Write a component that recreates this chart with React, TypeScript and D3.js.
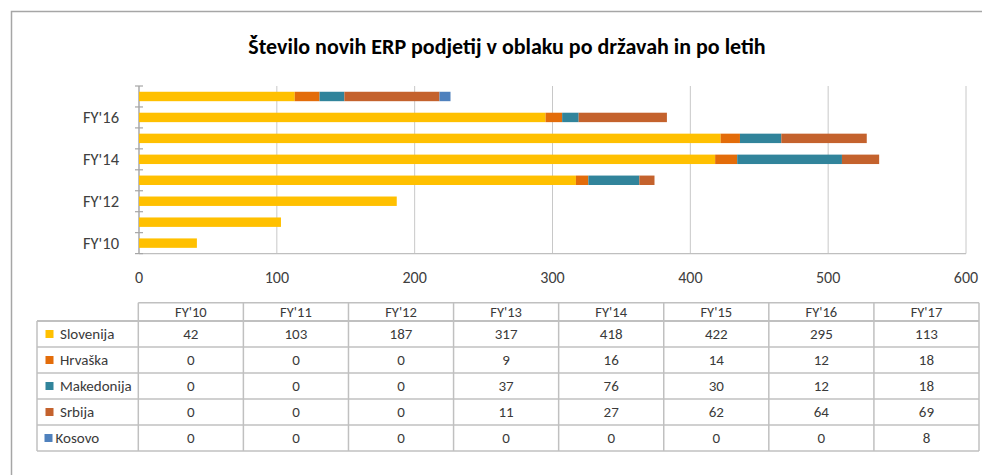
import React from "react";
import * as d3 from "d3";

const years = ["FY'10", "FY'11", "FY'12", "FY'13", "FY'14", "FY'15", "FY'16", "FY'17"];
const seriesNames = ["Slovenija", "Hrvaška", "Makedonija", "Srbija", "Kosovo"];
const slovenija = [42, 103, 187, 317, 418, 422, 295, 113];
const hrvaska = [0, 0, 0, 9, 16, 14, 12, 18];
const makedonija = [0, 0, 0, 37, 76, 30, 12, 18];
const srbija = [0, 0, 0, 11, 27, 62, 64, 69];
const kosovo = [0, 0, 0, 0, 0, 0, 0, 8];
const colors = ["#FFC000", "#E36C0A", "#31849B", "#C4622D", "#4F81BD"];
const xTicks = [0, 100, 200, 300, 400, 500, 600];
const yLabelYears = ["FY'10", "FY'12", "FY'14", "FY'16"];
const title = "Število novih ERP podjetij v oblaku po državah in po letih";

const seriesValues = [slovenija, hrvaska, makedonija, srbija, kosovo];

export default function App() {
  const W = 982, H = 475;
  const font = "Carlito, 'Liberation Sans', Arial, sans-serif";
  const x = d3.scaleLinear().domain([0, 600]).range([139, 966]);
  const y = d3.scaleBand<string>().domain(years.slice().reverse()).range([86, 253.6]).paddingInner(0.55).paddingOuter(0.275);

  const rows = years.map((yr, i) => {
    const o: any = { year: yr };
    seriesNames.forEach((s, k) => (o[s] = seriesValues[k][i]));
    return o;
  });
  const stacked = d3.stack<any>().keys(seriesNames)(rows);

  const step = y.step();
  const bandTop = 86;
  const boundaries = d3.range(years.length + 1).map((i) => bandTop + i * step);

  // table
  const tblLeft = 37, colStart = 138.3, tblRight = 979;
  const colW = (tblRight - colStart) / years.length;
  const headTop = 302.7, headBot = 321, rowH = 26;
  const tColor = "#3a3a3a";
  const lineC = "#c0c0c0";

  return (
    <div style={{ position: "absolute", left: 0, top: 0 }}>
      <svg width={W} height={H} style={{ display: "block", background: "#fff" }} fontFamily={font}>
        <rect x={0} y={0} width={W} height={H} fill="#fff" />
        {/* frame */}
        <path d={`M11.5,${H} V11.5 H${W}`} fill="none" stroke="#a6a6a6" strokeWidth={1.5} />
        <text x={507} y={54} textAnchor="middle" fontSize={22} fontWeight="bold" fill="#000">{title}</text>

        {/* gridlines */}
        {xTicks.map((t) => (
          <line key={t} x1={x(t)} x2={x(t)} y1={86} y2={253.6} stroke="#c8c8c8" strokeWidth={1} />
        ))}
        {/* axes */}
        <line x1={139} x2={966} y1={253.6} y2={253.6} stroke="#bfbfbf" strokeWidth={1.2} />
        <line x1={139} x2={139} y1={86} y2={253.6} stroke="#a6a6a6" strokeWidth={1.2} />
        {boundaries.map((b, i) => (
          <line key={i} x1={135} x2={143} y1={b} y2={b} stroke="#a6a6a6" strokeWidth={1.2} />
        ))}

        {/* bars */}
        {stacked.map((s, k) => (
          <g key={s.key} fill={colors[k]}>
            {s.map((d: any, i: number) =>
              d[1] - d[0] > 0 ? (
                <rect key={i} x={x(d[0])} y={y(d.data.year)} width={x(d[1]) - x(d[0])} height={y.bandwidth()} />
              ) : null
            )}
          </g>
        ))}

        {/* x tick labels */}
        {xTicks.map((t) => (
          <text key={t} x={x(t)} y={282.5} textAnchor="middle" fontSize={16} fill="#404040">{t}</text>
        ))}
        {/* y labels */}
        {yLabelYears.map((yr) => (
          <text key={yr} x={119} y={(y(yr) as number) + y.bandwidth() / 2 + 5.5} textAnchor="end" fontSize={16.5} fill="#404040">{yr}</text>
        ))}

        {/* data table */}
        <g>
          <line x1={colStart} x2={tblRight} y1={headTop} y2={headTop} stroke={lineC} strokeWidth={1.5} />
          <line x1={tblLeft} x2={tblRight} y1={headBot} y2={headBot} stroke={lineC} strokeWidth={2} />
          {seriesNames.map((_, r) => (
            <line key={r} x1={tblLeft} x2={tblRight} y1={headBot + (r + 1) * rowH} y2={headBot + (r + 1) * rowH} stroke={lineC} strokeWidth={1.5} />
          ))}
          <line x1={tblLeft} x2={tblLeft} y1={headBot} y2={headBot + seriesNames.length * rowH} stroke={lineC} strokeWidth={1.5} />
          {d3.range(years.length + 1).map((c) => (
            <line key={c} x1={colStart + c * colW} x2={colStart + c * colW} y1={headTop} y2={headBot + seriesNames.length * rowH} stroke={lineC} strokeWidth={1.5} />
          ))}
          {years.map((yr, c) => (
            <text key={yr} x={colStart + (c + 0.5) * colW} y={headTop + 14.5} textAnchor="middle" fontSize={14.5} fill={tColor}>{yr}</text>
          ))}
          {seriesNames.map((s, r) => {
            const cy = headBot + (r + 0.5) * rowH;
            const isK = s === "Kosovo";
            return (
              <g key={s}>
                <rect x={isK ? 44.5 : 45.5} y={cy - 4} width={8} height={8} fill={colors[r]} />
                <text x={isK ? 55.5 : 60} y={cy + 5} fontSize={15} fill={tColor}>{s}</text>
                {seriesValues[r].map((v, c) => (
                  <text key={c} x={colStart + (c + 0.5) * colW} y={cy + 5} textAnchor="middle" fontSize={15} fill={tColor}>{v}</text>
                ))}
              </g>
            );
          })}
        </g>
      </svg>
    </div>
  );
}
